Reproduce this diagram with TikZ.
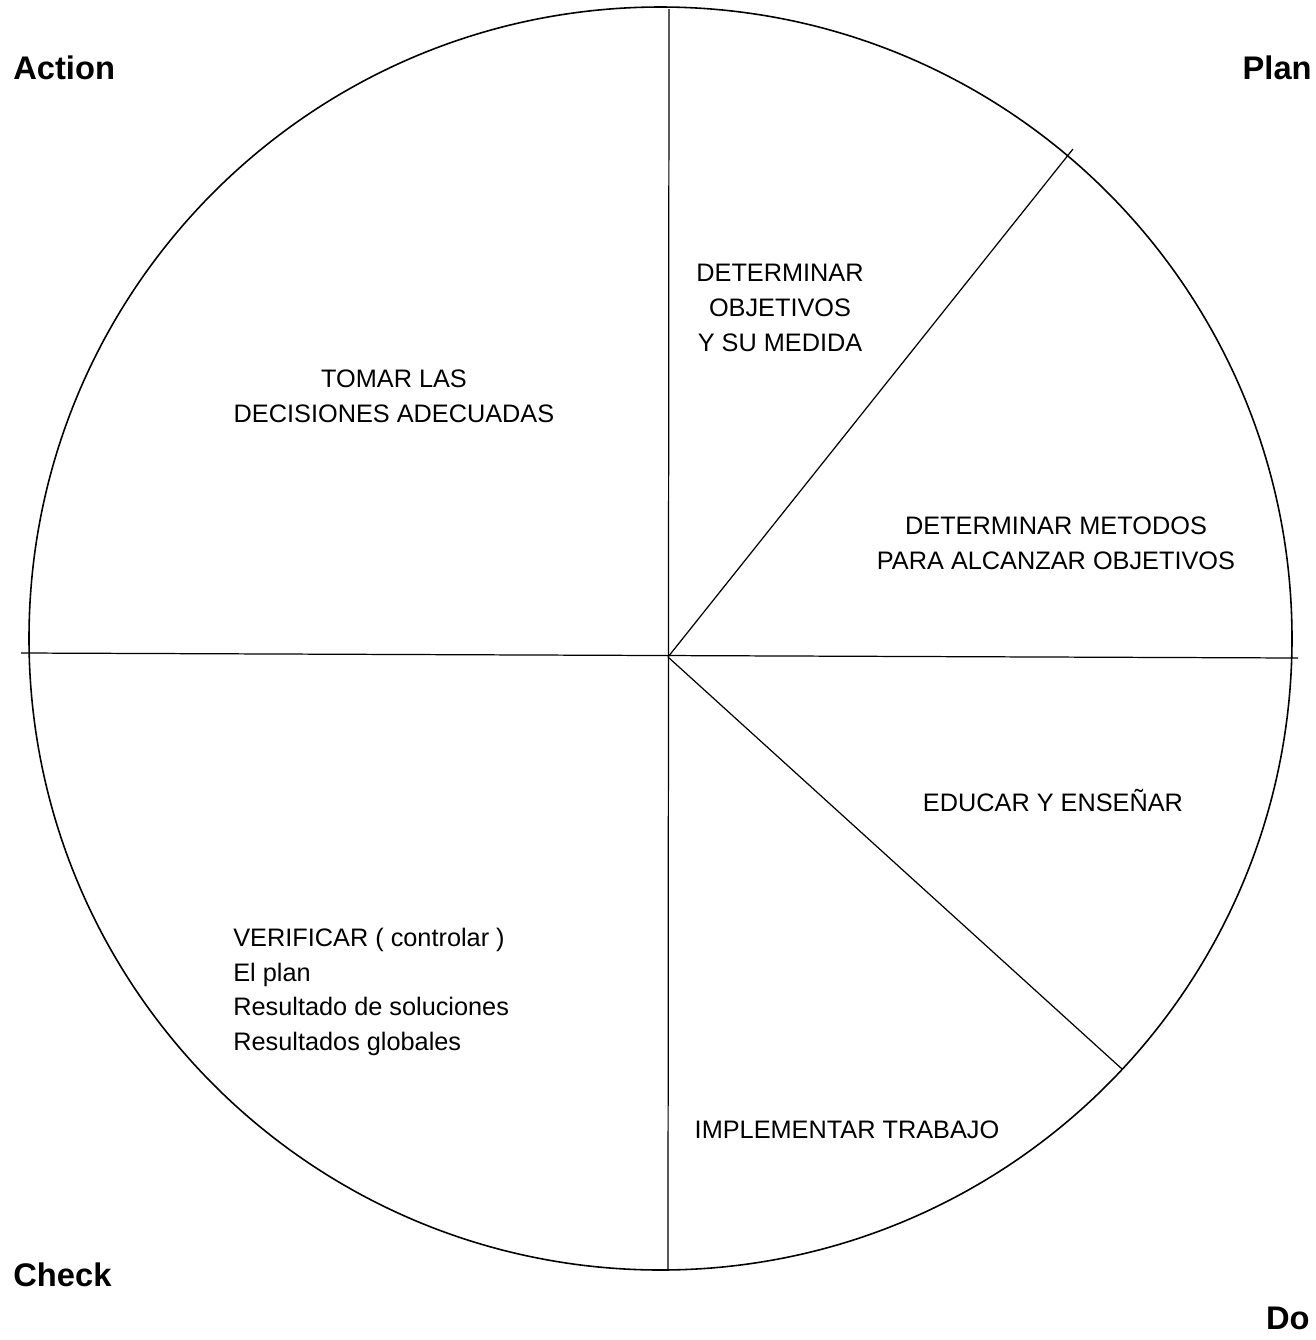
\documentclass[tikz,border=0pt]{standalone}
\usepackage{fontspec}
\setmainfont{Liberation Sans}
\usetikzlibrary{positioning}

\begin{document}
\begin{tikzpicture}[
  x=0.02cm, y=-0.02cm,
  every node/.style={font=\fontsize{14.4}{19.8}\selectfont},
  phase/.style={font=\fontsize{18.6}{22}\selectfont\bfseries, inner sep=0pt},
  task/.style={align=center, inner sep=0pt},
  tasklist/.style={align=left, inner sep=0pt},
  wheel/.style={draw=black, line width=0.9pt},
  spoke/.style={draw=black, line width=0.7pt},
]
\useasboundingbox (0,0) rectangle (1316,1340);

% Wheel
\draw[wheel] (660.5,638.5) circle (631.5);

% Spokes
\coordinate (hub) at (668,657);
\coordinate (top) at (669,9);
\coordinate (bottom) at (668,1270);
\coordinate (left) at (21,653);
\coordinate (right) at (1298,658);
\coordinate (upper) at (1073,149);
\coordinate (lower) at (1122,1069);

\draw[spoke] (top) -- (bottom);
\draw[spoke] (left) -- (right);
\draw[spoke] (hub) -- (upper);
\draw[spoke] (hub) -- (lower);

% Phase labels
\node[phase, anchor=west] (action) at (13,68) {Action};
\node[phase, anchor=east] (plan) at (1312,68) {Plan};
\node[phase, anchor=west] (check) at (13,1275) {Check};
\node[phase, anchor=east] (do) at (1310,1318) {Do};

% Sector texts
\node[task] (objetivos) at (780,308) {DETERMINAR\\OBJETIVOS\\Y SU MEDIDA};
\node[task] (metodos) at (1056,543) {DETERMINAR METODOS\\PARA ALCANZAR OBJETIVOS};
\node[task] (educar) at (1053,801) {EDUCAR Y ENSEÑAR};
\node[task] (implementar) at (847,1130) {IMPLEMENTAR TRABAJO};
\node[task] (decisiones) at (394,396) {TOMAR LAS\\DECISIONES ADECUADAS};
\node[tasklist, anchor=west] (verificar) at (233,992)
  {VERIFICAR ( controlar )\\El plan\\Resultado de soluciones\\Resultados globales};

\end{tikzpicture}
\end{document}
